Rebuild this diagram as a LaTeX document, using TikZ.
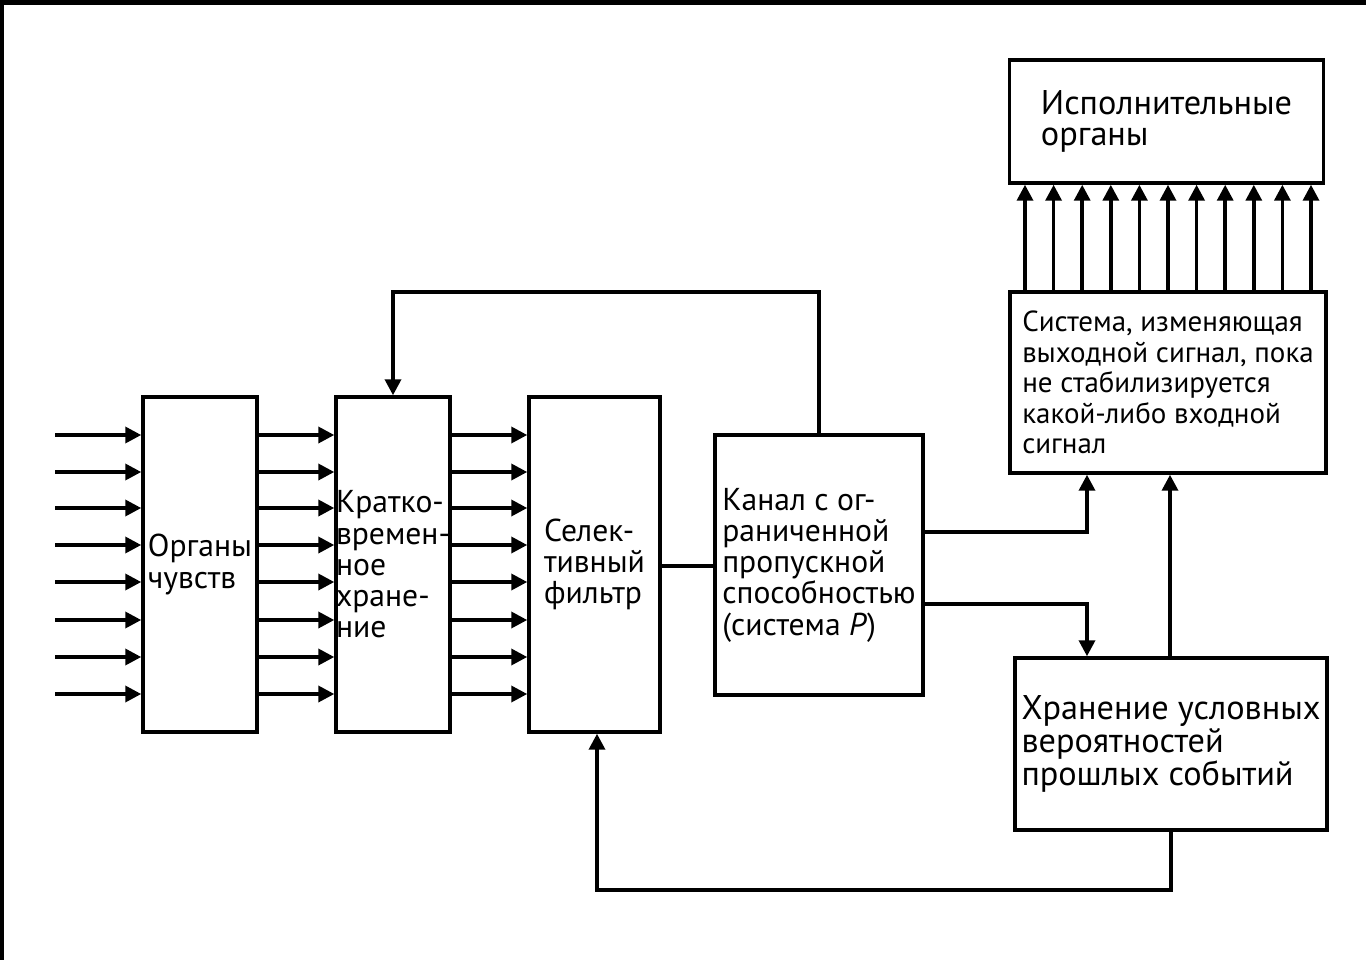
\documentclass[tikz,border=0pt]{standalone}
\usepackage{fontspec}
\setmainfont{PT Sans}
\usetikzlibrary{arrows.meta, positioning}

\begin{document}
\begin{tikzpicture}[x=0.02cm, y=-0.02cm, >={Triangle[length=0.32cm, width=0.32cm]},
		block/.style={rectangle, draw=black, line width=2pt, align=left, inner sep=0pt, font=\fontsize{18}{17.8}\selectfont},
		link/.style={line width=2pt}]
		
		\useasboundingbox[fill=white] (0,0) rectangle (1366,960);
		% dark edge of the scan
		\fill[black] (0,0) rectangle (1366,5);
		\fill[black] (0,0) rectangle (4,960);
		
		\node[block, minimum width=2.28cm, minimum height=6.7cm] (sens) at (200,564.5) {Органы\\чувств};
		\node[block, minimum width=2.24cm, minimum height=6.7cm] (stm) at (393,564.5) {Кратко-\\времен-\\ное\\хране-\\ние};
		\node[block, minimum width=2.62cm, minimum height=6.7cm] (filt) at (594.5,564.5) {Селек-\\тивный\\фильтр};
		\node[block, minimum width=4.16cm, minimum height=5.2cm] (chan) at (819,565) {Канал с ог-\\раниченной\\пропускной\\способностью\\(система \textit{P})};
		
		\node[block, minimum width=6.28cm, minimum height=2.46cm, font=\fontsize{19.5}{18}\selectfont] (exec) at (1166.5,121.5) {Исполнительные\\органы};
		\node[block, minimum width=6.32cm, minimum height=3.62cm, font=\fontsize{16.5}{17.3}\selectfont] (sys) at (1168,382.5) {Система, изменяющая\\выходной сигнал, пока\\не стабилизируется\\какой-либо входной\\сигнал};
		\node[block, minimum width=6.24cm, minimum height=3.44cm, font=\fontsize{19.5}{17.4}\selectfont] (mem) at (1171,744) {Хранение условных\\вероятностей\\прошлых событий};
		
		% parallel channels
		\foreach \y [count=\i] in {435,472,508,545,582,620,657,694} {
			\coordinate (in\i) at (55,\y);
			\draw[link, ->] (in\i) -- (sens.west |- in\i);
			\draw[link, ->] (sens.east |- in\i) -- (stm.west |- in\i);
			\draw[link, ->] (stm.east |- in\i) -- (filt.west |- in\i);
		}
		
		\foreach \i in {0,...,10} {
			\pgfmathsetmacro\xa{1025+28.6*\i}
			\draw[link, ->] (sys.north -| \xa,0) -- (exec.south -| \xa,0);
		}
		
		\draw[link] (filt.east |- 0,566) -- (chan.west |- 0,566);
		\draw[link, ->] (chan.north) -- (chan.north |- 0,292) -| (stm.north);
		\draw[link, ->] (chan.east |- 0,532) -| (sys.south -| 1087,0);
		\draw[link, ->] (chan.east |- 0,604) -| (mem.north -| 1087,0);
		\draw[link, ->] (mem.north -| 1170,0) -- (sys.south -| 1170,0);
		\draw[link, ->] (mem.south) -- (mem.south |- 0,890) -| (filt.south -| 597,0);
		
	\end{tikzpicture}
\end{document}
